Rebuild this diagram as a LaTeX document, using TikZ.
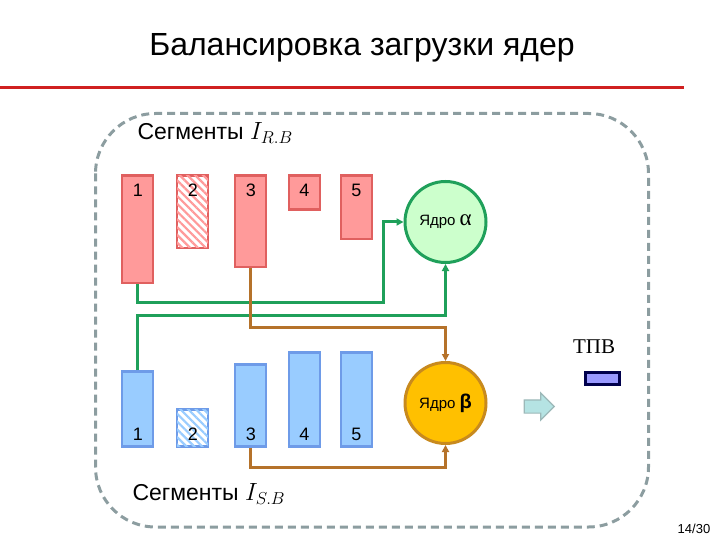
\documentclass[tikz,border=0pt]{standalone}
\usepackage{fontspec}
\setmainfont{Liberation Sans}
\newfontfamily\timesfont{Liberation Serif}
\usepackage{tikz}
\usetikzlibrary{arrows.meta,patterns.meta,shapes.arrows}
\definecolor{rfill}{HTML}{FF9A9A}
\definecolor{rbord}{HTML}{E0605F}
\definecolor{sfill}{HTML}{99CCFF}
\definecolor{sbord}{HTML}{6E9BE8}
\definecolor{afill}{HTML}{CCFFCC}
\definecolor{gline}{HTML}{1FA05A}
\definecolor{bfill}{HTML}{FFC000}
\definecolor{bbord}{HTML}{C88A1E}
\definecolor{bline}{HTML}{B5722A}
\definecolor{dashgray}{HTML}{8C9DA0}
\definecolor{titlered}{HTML}{D02020}
\definecolor{shiftfill}{HTML}{B5E3E3}
\definecolor{shiftbord}{HTML}{9CB8B8}
\tikzset{
  rbar/.style={draw=rbord, fill=rfill, line width=2.5pt, minimum width=31pt, inner sep=0pt, anchor=north},
  sbar/.style={draw=sbord, fill=sfill, line width=2.5pt, minimum width=31pt, inner sep=0pt, anchor=south},
  num/.style={font=\fontsize{18}{20}\selectfont},
  core/.style={circle, line width=3pt, minimum size=81pt, inner sep=0pt, font=\fontsize{15}{17}\selectfont},
  green wire/.style={draw=gline, line width=3pt, -{Triangle[length=7pt,width=7pt]}},
  brown wire/.style={draw=bline, line width=3pt, -{Triangle[length=7pt,width=7pt]}},
  seglabel/.style={anchor=west, font=\fontsize{23}{26}\selectfont}
}
\begin{document}
\begin{tikzpicture}[x=1pt,y=-1pt]
		%%%%% START %%%%%
		\useasboundingbox (0,0) rectangle (720,540);
		
		\node[font=\fontsize{32}{36}\selectfont] (title) at (362,48) {Балансировка загрузки ядер};
		\draw[titlered, line width=3pt] (0,88) -- (684,88);
		
		\draw[dashgray, line width=3pt, dash pattern=on 8pt off 5pt, rounded corners=60pt] (95.5,113.5) rectangle (648.5,527);
		
		\node[seglabel] (rlabel) at (134,133) {Сегменты $I_{R.B}$};
		\node[seglabel] (slabel) at (129,494) {Сегменты $I_{S.B}$};
		
		% red segments
		\node[rbar, minimum height=107pt] (r1) at (137.5,174.5) {};
		\node[rbar, minimum height=72pt, fill=white, postaction={pattern={Lines[angle=-45,distance=5.5pt,line width=2.2pt]}, pattern color=rfill}] (r2) at (192.5,174.5) {};
		\node[rbar, minimum height=91pt] (r3) at (250.5,174.5) {};
		\node[rbar, minimum height=34pt] (r4) at (304.5,174.5) {};
		\node[rbar, minimum height=63pt] (r5) at (356.5,174.5) {};
		\node[num] at (138,190) {1};
		\node[num] at (193,190) {2};
		\node[num] at (251,190) {3};
		\node[num] at (304.5,190) {4};
		\node[num] at (356.5,190) {5};
		
		% blue segments
		\node[sbar, minimum height=75pt] (s1) at (137.5,447.5) {};
		\node[sbar, minimum height=37pt, fill=white, postaction={pattern={Lines[angle=-45,distance=5.5pt,line width=2.2pt]}, pattern color=sfill}] (s2) at (192.5,447.5) {};
		\node[sbar, minimum height=82pt] (s3) at (250.5,447.5) {};
		\node[sbar, minimum height=94pt] (s4) at (304.5,447.5) {};
		\node[sbar, minimum height=94pt] (s5) at (356.5,447.5) {};
		\node[num] at (138,434) {1};
		\node[num] at (193,434) {2};
		\node[num] at (251,434) {3};
		\node[num] at (304.5,434) {4};
		\node[num] at (356.5,434) {5};
		
		% cores
		\node[core, draw=gline, fill=afill] (alpha) at (445.5,222) {Ядро {\timesfont\fontsize{23}{24}\selectfont α}};
		\node[core, draw=bbord, fill=bfill] (beta) at (445.5,403) {Ядро {\fontsize{20}{21}\selectfont\bfseries β}};
		
		\coordinate (g1) at (383,302);
		\coordinate (g2) at (445.5,315);
		\coordinate (b1) at (445.5,327);
		\coordinate (b2) at (445.5,467);
		\draw[green wire] (r1.south) |- (g1) |- (alpha.west);
		\draw[green wire] (s1.north) |- (g2) -- (alpha.south);
		\draw[brown wire] (r3.south) |- (b1) -- (beta.north);
		\draw[brown wire] (s3.south) |- (b2) -- (beta.south);
		
		\node[single arrow, draw=shiftbord, fill=shiftfill, line width=1.2pt, inner sep=6pt, minimum height=30pt, single arrow head extend=7pt] (shift) at (536,406.5) {};
		
		\node[font=\timesfont\fontsize{21}{24}\selectfont] (tpv) at (594,347) {ТПВ};
		\node[draw=blue!30!black, fill=blue!40!white, line width=2.5pt, minimum width=34pt, minimum height=12pt, inner sep=0pt] (tpvbox) at (602.5,378.5) {};
		
		\node[font=\fontsize{13}{15}\selectfont] (page) at (694,529) {14/30};
		%%%%% END %%%%%
\end{tikzpicture}
\end{document}
